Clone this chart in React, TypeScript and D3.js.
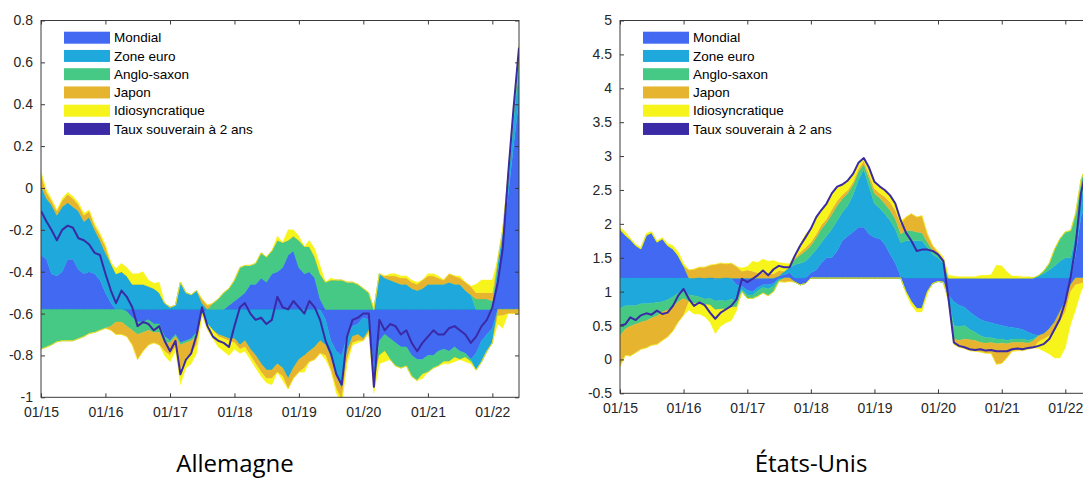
import React, { useRef, useEffect } from 'react';
import * as d3 from 'd3';

const seriesNames = ['Mondial', 'Zone euro', 'Anglo-saxon', 'Japon', 'Idiosyncratique'];
const lineName = 'Taux souverain à 2 ans';
const seriesColors = ['#4169f2', '#1ea8db', '#47c986', '#e7b430', '#f7f41c'];
const lineColor = '#3b2aa5';

const xTickLabels = ['01/15', '01/16', '01/17', '01/18', '01/19', '01/20', '01/21', '01/22'];
const deYTicks = [-1, -0.8, -0.6, -0.4, -0.2, 0, 0.2, 0.4, 0.6, 0.8];
const deYLabels = ['-1', '-0.8', '-0.6', '-0.4', '-0.2', '0', '0.2', '0.4', '0.6', '0.8'];
const usYTicks = [-0.5, 0, 0.5, 1, 1.5, 2, 2.5, 3, 3.5, 4, 4.5, 5];
const usYLabels = ['-0.5', '0', '0.5', '1', '1.5', '2', '2.5', '3', '3.5', '4', '4.5', '5'];

// monthly values, Jan 2015 -> Jun 2022
// Allemagne
const deBaseline = -0.58;
const deMondial = [
  .26, .24, .17, .16, .18, .24, .24, .19, .17, .18, .17, .14,
  .08, .03, 0, 0, -.01, -.04, -.06, -.06, -.05, -.07, -.07, -.13,
  -.15, -.12, -.16, -.15, -.14, -.11, -.02, 0, 0, 0, 0, .02,
  .04, .06, .08, .12, .12, .15, .13, .17, .18, .2, .26, .28,
  .2, .17, .18, .15, .05, -.05, -.15, -.2, -.22, -.13, -.08, -.07,
  -.04, -.05, -.28, -.15, -.12, -.14, -.16, -.18, -.18, -.22, -.24, -.24,
  -.22, -.22, -.2, -.19, -.2, -.18, -.2, -.21, -.24, -.21, -.15, -.12,
  -.09, .17, .35, .55, .78, 1.0,
];
const deZoneEuro = [
  .33, .29, .33, .29, .31, .27, .25, .28, .25, .26, .21, .19,
  .19, .19, .17, .18, .16, .12, .12, .12, .11, .10, .08, .03,
  .01, .02, .13, .08, .07, .09, .03, -.07, -.10, -.12, -.13, -.14,
  -.14, -.17, -.15, -.19, -.22, -.26, -.29, -.29, -.26, -.28, -.33, -.28,
  -.24, -.22, -.20, -.18, -.15, -.12, -.08, -.12, -.16, -.07, -.05, -.05,
  -.10, -.05, -.05, .17, .15, .14, .13, .12, .12, .10, .09, .10,
  .12, .12, .12, .12, .13, .12, .12, .09, .07, -.08, -.10, -.08,
  -.07, .05, .02, .05, .12, .15,
];
const deAngloSaxon = [
  -.19, -.18, -.17, -.155, -.15, -.15, -.15, -.14, -.13, -.115, -.11, -.10,
  -.09, -.08, -.06, -.06, -.07, -.06, -.06, -.05, -.05, -.04, -.04, -.03,
  -.01, -.01, -.01, -.01, -.01, -.02, 0, 0, .03, .05, .08, .08,
  .10, .14, .13, .09, .10, .12, .12, .11, .15, .12, .07, .07,
  .13, .13, .12, .10, .12, .13, .14, .14, .14, .13, .13, .12,
  .10, .08, 0, -.07, -.08, -.10, -.11, -.10, -.09, -.10, -.10, -.07,
  -.08, -.06, -.07, -.06, -.05, -.05, -.04, -.02, -.01, .05, .05, .05,
  .04, .02, .01, .04, .05, .06,
];
const deJapon = [
  .055, .03, .02, .02, .03, .04, .04, .03, .03, .03, .02, .025,
  .03, -.02, -.06, -.06, -.05, -.07, -.12, -.09, -.07, -.05, -.06, -.04,
  -.06, -.05, -.12, -.07, -.06, -.04, .02, .02, 0, -.01, -.01, -.01,
  -.02, -.02, -.03, -.03, -.04, -.04, -.04, -.04, -.04, -.04, -.05, -.05,
  -.06, -.06, -.05, -.06, -.06, -.05, -.06, -.06, -.05, -.04, -.03, -.03,
  -.01, -.01, -.03, 0, .01, .02, .03, .03, .03, .03, .03, .04,
  .04, .04, .03, .02, .04, .04, .03, .04, .04, .03, .03, .03,
  .04, -.03, -.03, -.02, -.02, -.02,
];
const deIdio = [
  .015, .01, .01, .005, .01, .01, .01, .01, .01, .005, .01, .01,
  .01, .005, .025, .04, .04, .05, .05, .06, .03, .025, .05, -.02,
  -.03, -.02, -.07, -.05, -.05, -.04, -.01, -.03, -.04, -.05, -.06, -.07,
  -.03, -.02, -.02, -.02, -.02, -.02, -.02, -.03, .02, -.02, .05, .03,
  .02, -.02, .03, .04, .04, -.02, .01, -.02, -.02, -.02, -.01, -.01,
  0, 0, -.04, -.04, -.05, .01, .01, .01, .01, .01, .01, -.02,
  .01, .01, .01, -.01, -.01, -.02, .01, -.02, -.01, .04, .06, .06,
  .06, -.04, -.06, .02, .03, .05,
];
const deTaux = [
  -.11, -.16, -.20, -.25, -.20, -.18, -.19, -.24, -.25, -.27, -.31, -.32,
  -.41, -.49, -.55, -.49, -.52, -.57, -.66, -.64, -.65, -.68, -.66, -.73,
  -.78, -.73, -.89, -.82, -.79, -.70, -.57, -.66, -.71, -.73, -.74, -.76,
  -.66, -.57, -.55, -.60, -.63, -.62, -.65, -.63, -.52, -.57, -.58, -.54,
  -.57, -.60, -.54, -.57, -.63, -.73, -.79, -.89, -.94, -.71, -.63, -.62,
  -.60, -.60, -.95, -.63, -.68, -.65, -.66, -.70, -.68, -.74, -.78, -.74,
  -.71, -.68, -.70, -.70, -.67, -.66, -.68, -.70, -.74, -.71, -.66, -.63,
  -.57, -.45, -.29, .07, .38, .67,
];

// États-Unis
const usBaseline = 1.2;
const usMondial = [
  .72, .63, .57, .48, .43, .63, .67, .53, .58, .48, .43, .33,
  .18, 0, -.01, .01, -.01, .01, -.02, 0, .01, -.01, -.10, -.12,
  -.18, -.20, -.14, -.10, -.10, -.08, .03, .05, .08, -.06, -.10, -.08,
  .08, .12, .22, .30, .30, .40, .55, .62, .68, .75, .75, .65,
  .60, .58, .50, .35, .22, .02, -.20, -.35, -.45, -.45, -.20, -.08,
  -.05, -.06, -.25, -.35, -.40, -.43, -.50, -.56, -.61, -.64, -.66, -.68,
  -.70, -.72, -.73, -.74, -.76, -.80, -.83, -.85, -.82, -.75, -.65, -.50,
  -.35, -.10, .35, .90, 1.10, 1.00,
];
const usZoneEuro = [
  -.45, -.41, -.41, -.41, -.38, -.38, -.37, -.36, -.35, -.32, -.28, -.22,
  -.20, -.25, -.25, -.28, -.30, -.30, -.32, -.33, -.34, -.30, -.25, -.05,
  -.07, -.05, -.05, -.04, -.06, -.04, -.03, .05, .07, .20, .22, .25,
  .25, .30, .30, .32, .42, .45, .42, .45, .55, .70, .85, .70,
  .50, .45, .45, .50, .50, .50, .55, .55, .55, .55, .45, .35,
  .30, .22, -.05, -.35, -.32, -.27, -.26, -.24, -.24, -.24, -.22, -.22,
  -.20, -.20, -.17, -.16, -.14, -.12, -.07, .03, .07, .12, .18, .25,
  .30, .30, .30, .30, .30, .25,
];
const usAngloSaxon = [
  -.40, -.34, -.30, -.27, -.27, -.25, -.22, -.20, -.15, -.15, -.15, -.13,
  -.10, -.10, -.12, -.10, -.08, -.10, -.13, -.13, -.12, -.12, -.08, -.03,
  -.05, -.05, -.08, -.08, -.10, -.08, -.02, 0, .02, .08, .12, .15,
  .15, .18, .20, .20, .22, .22, .20, .18, .15, .12, .08, .12,
  .15, .15, .15, .15, .15, .13, .15, .15, .13, .12, .08, .06,
  .05, .04, -.02, -.20, -.20, -.20, -.15, -.12, -.10, -.08, -.07, -.07,
  -.06, -.05, -.05, -.05, -.05, -.04, -.03, .01, .04, .10, .25, .33,
  .38, .40, .30, .25, .25, .20,
];
const usJapon = [
  -.45, -.39, -.44, -.42, -.40, -.40, -.40, -.42, -.42, -.40, -.35, -.30,
  -.25, .12, .13, .15, .16, .18, .20, .22, .20, .22, .17, .10,
  .12, .10, .08, .08, .07, .06, .08, -.06, -.05, .02, .04, .05,
  .05, .05, .06, .05, .07, .07, .06, .05, .04, .04, .05, .06,
  .07, .07, .10, .12, .13, .15, .20, .25, .22, .25, .12, .07,
  .03, .03, -.02, -.08, -.10, -.14, -.16, -.16, -.14, -.15, -.16, -.30,
  -.30, -.20, -.13, -.12, -.12, -.09, -.10, -.09, -.08, -.10, -.13, -.15,
  -.15, -.10, -.10, -.08, -.05, -.05,
];
const usIdio = [
  .03, .05, .02, .02, .02, .03, .02, .02, .02, .03, .05, .06,
  .04, -.12, -.15, -.15, -.18, -.25, -.35, -.25, -.20, -.20, -.05, .05,
  .05, .15, .15, .20, .18, .20, .12, .12, .04, .05, .12, .20,
  .20, .25, .22, .23, .24, .21, .15, .14, .12, .09, .04, .10,
  .10, .10, .10, .10, .10, .05, -.03, -.05, -.05, -.05, -.03, 0,
  .02, .02, .04, .03, .02, .02, .02, .02, .04, .04, .05, .19,
  .18, .09, .03, .03, .02, .02, .01, -.10, -.18, -.27, -.40, -.53,
  -.53, -.48, -.37, -.12, 0, 0,
];
const usTaux = [
  .50, .52, .62, .58, .65, .68, .66, .72, .67, .69, .79, .94,
  1.04, .89, .79, .84, .80, .69, .60, .69, .74, .79, .89, 1.19,
  1.14, 1.19, 1.24, 1.31, 1.24, 1.33, 1.38, 1.36, 1.36, 1.53, 1.68, 1.80,
  1.93, 2.10, 2.20, 2.30, 2.45, 2.55, 2.58, 2.64, 2.74, 2.90, 2.97, 2.83,
  2.62, 2.55, 2.50, 2.42, 2.30, 2.05, 1.87, 1.75, 1.60, 1.62, 1.62, 1.60,
  1.55, 1.45, .90, .25, .20, .18, .15, .14, .15, .13, .14, .12,
  .12, .12, .15, .16, .15, .17, .18, .20, .23, .30, .45, .60,
  .85, 1.22, 1.68, 2.45, 2.80, 2.60,
];

const months = d3.timeMonth.range(new Date(2015, 0, 1), new Date(2022, 5, 2));
const xTickDates = xTickLabels.map((_, i) => new Date(2015 + i, 0, 1));

const tickFont = '"Liberation Sans", Arial, Helvetica, sans-serif';

const drawPanel = (svg, id, cfg) => {
  const { left, top, width, height, baseline, yDomain, yTicks, yLabels, components, rate, title, titleX } = cfg;

  const x = d3.scaleTime()
    .domain([new Date(2015, 0, 1), new Date(2022, 5, 1)])
    .range([0, width]);
  const y = d3.scaleLinear().domain(yDomain).range([height, 0]);

  // stack positive parts upward and negative parts downward from the baseline
  const layers = components.map(() => ({ pos: [], neg: [] }));
  months.forEach((date, i) => {
    let up = baseline;
    let down = baseline;
    components.forEach((vals, k) => {
      const v = vals[i];
      if (v >= 0) {
        layers[k].pos.push({ date, y0: up, y1: up + v });
        layers[k].neg.push({ date, y0: down, y1: down });
        up += v;
      } else {
        layers[k].pos.push({ date, y0: up, y1: up });
        layers[k].neg.push({ date, y0: down, y1: down + v });
        down += v;
      }
    });
  });

  const g = svg.append('g').attr('transform', `translate(${left},${top})`);

  svg.append('defs').append('clipPath').attr('id', id)
    .append('rect').attr('width', width).attr('height', height);

  const plot = g.append('g').attr('clip-path', `url(#${id})`);

  plot.append('line')
    .attr('x1', x(months[0])).attr('x2', x(months[months.length - 1]))
    .attr('y1', y(baseline)).attr('y2', y(baseline))
    .attr('stroke', '#000').attr('stroke-width', 1);

  const area = d3.area()
    .x(d => x(d.date))
    .y0(d => y(d.y0))
    .y1(d => y(d.y1));

  layers.forEach((layer, k) => {
    ['pos', 'neg'].forEach(side => {
      plot.append('path')
        .datum(layer[side])
        .attr('d', area)
        .attr('fill', seriesColors[k])
        .attr('stroke', seriesColors[k])
        .attr('stroke-width', 0.4);
    });
  });

  const line = d3.line()
    .x((d, i) => x(months[i]))
    .y(d => y(d));

  plot.append('path')
    .datum(rate)
    .attr('d', line)
    .attr('fill', 'none')
    .attr('stroke', lineColor)
    .attr('stroke-width', 2)
    .attr('stroke-linejoin', 'round');

  // axes, MATLAB style box with inward ticks
  const styleAxis = sel => {
    sel.select('.domain').remove();
    sel.attr('color', '#3a3a3a').attr('font-size', 14).attr('font-family', tickFont);
    sel.selectAll('text').attr('fill', '#262626');
  };

  g.append('g')
    .attr('transform', `translate(0,${height})`)
    .call(d3.axisBottom(x).tickValues(xTickDates).tickFormat((d, i) => xTickLabels[i]).tickSize(-4).tickPadding(10))
    .call(styleAxis);
  g.append('g')
    .call(d3.axisTop(x).tickValues(xTickDates).tickFormat(() => '').tickSize(-4))
    .call(styleAxis);
  g.append('g')
    .call(d3.axisLeft(y).tickValues(yTicks).tickFormat((d, i) => yLabels[i]).tickSize(-4).tickPadding(8))
    .call(styleAxis);
  g.append('g')
    .attr('transform', `translate(${width},0)`)
    .call(d3.axisRight(y).tickValues(yTicks).tickFormat(() => '').tickSize(-4))
    .call(styleAxis);

  g.append('rect')
    .attr('width', width).attr('height', height)
    .attr('fill', 'none').attr('stroke', '#3a3a3a').attr('stroke-width', 1);

  // legend
  const legendItems = seriesNames.map((name, k) => ({ name, color: seriesColors[k] }))
    .concat([{ name: lineName, color: lineColor }]);
  const legend = g.append('g').attr('transform', 'translate(23,17.2)');
  legendItems.forEach((item, i) => {
    const row = legend.append('g').attr('transform', `translate(0,${i * 18.25})`);
    row.append('rect')
      .attr('x', 0).attr('y', -6).attr('width', 46).attr('height', 12)
      .attr('fill', item.color);
    row.append('text')
      .attr('x', 50).attr('y', 0).attr('dy', '0.35em')
      .attr('font-family', tickFont).attr('font-size', 13.5)
      .attr('fill', '#000')
      .text(item.name);
  });

  svg.append('text')
    .attr('x', titleX).attr('y', 472)
    .attr('text-anchor', 'middle')
    .attr('font-family', '"Open Sans", "Noto Sans", sans-serif')
    .attr('font-size', 24)
    .attr('fill', '#000')
    .text(title);
};

const App = () => {
  const ref = useRef(null);

  useEffect(() => {
    const svg = d3.select(ref.current);
    svg.selectAll('*').remove();

    drawPanel(svg, 'clip-de', {
      left: 41, top: 20.5, width: 478, height: 376.8,
      baseline: deBaseline, yDomain: [-1, 0.8], yTicks: deYTicks, yLabels: deYLabels,
      components: [deMondial, deZoneEuro, deAngloSaxon, deJapon, deIdio],
      rate: deTaux, title: 'Allemagne', titleX: 235,
    });

    drawPanel(svg, 'clip-us', {
      left: 620, top: 20.5, width: 471.6, height: 372.8,
      baseline: usBaseline, yDomain: [-0.5, 5], yTicks: usYTicks, yLabels: usYLabels,
      components: [usMondial, usZoneEuro, usAngloSaxon, usJapon, usIdio],
      rate: usTaux, title: 'États-Unis', titleX: 811,
    });
  }, []);

  return (
    <svg
      ref={ref}
      width={1083}
      height={480}
      style={{ position: 'absolute', left: 0, top: 0, background: '#fff', overflow: 'hidden' }}
    />
  );
};

export default App;
